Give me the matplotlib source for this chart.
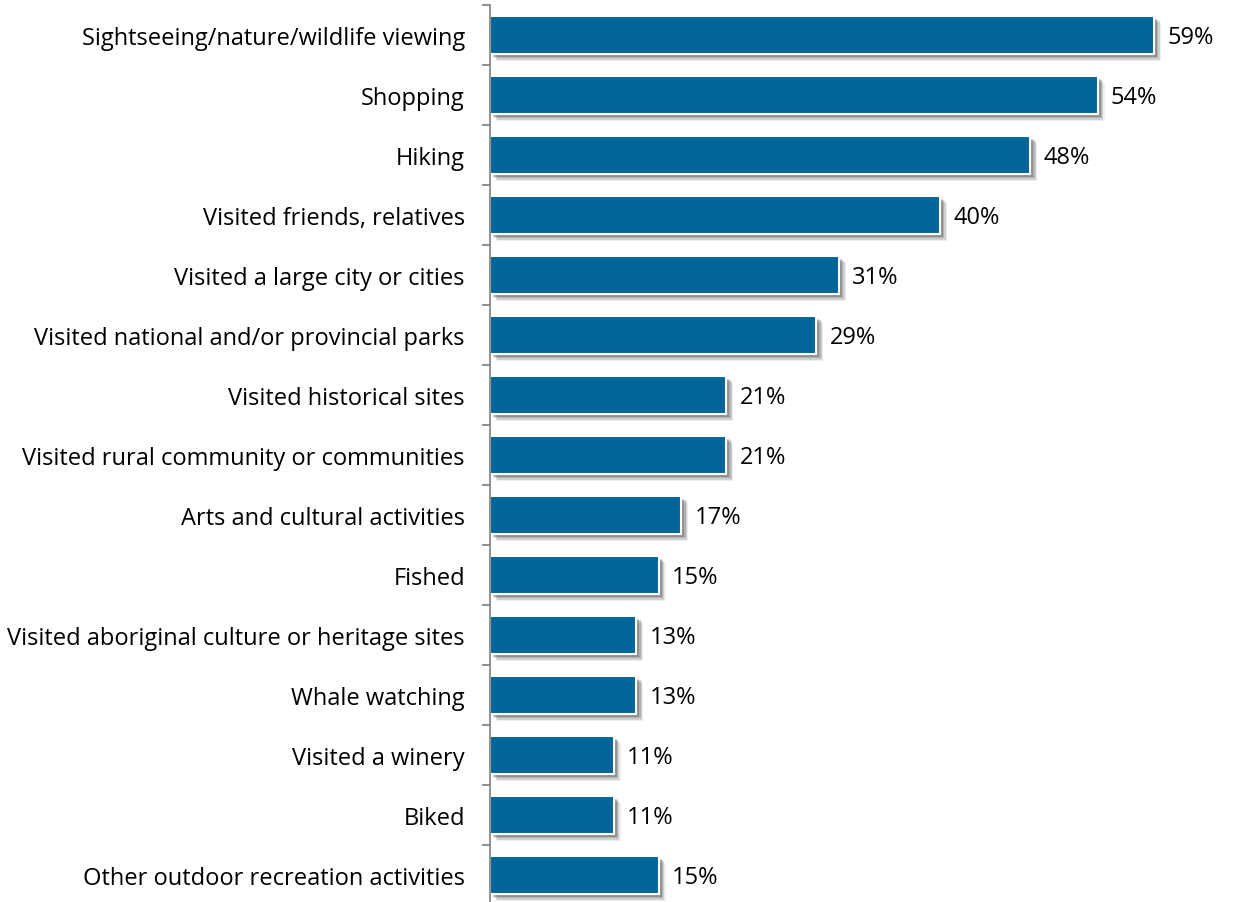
import matplotlib.pyplot as plt
import matplotlib.patheffects as pe

# Activities and share of respondents (%)
activities = [
    "Sightseeing/nature/wildlife viewing",
    "Shopping",
    "Hiking",
    "Visited friends, relatives",
    "Visited a large city or cities",
    "Visited national and/or provincial parks",
    "Visited historical sites",
    "Visited rural community or communities",
    "Arts and cultural activities",
    "Fished",
    "Visited aboriginal culture or heritage sites",
    "Whale watching",
    "Visited a winery",
    "Biked",
    "Other outdoor recreation activities",
]
shares = [59, 54, 48, 40, 31, 29, 21, 21, 17, 15, 13, 13, 11, 11, 15]

plt.rcParams['font.family'] = ['Open Sans', 'DejaVu Sans']

fig = plt.figure(figsize=(12.33, 9.03), dpi=100)
ax = fig.add_axes([490 / 1233, -3 / 903, 1 - 490 / 1233, 900 / 903])

pos = list(range(len(activities)))

# soft drop shadow built from a few stacked offsets
shadow = [
    pe.SimplePatchShadow(offset=(5, -5), shadow_rgbFace='#000000', alpha=0.07),
    pe.SimplePatchShadow(offset=(4, -4), shadow_rgbFace='#000000', alpha=0.12),
    pe.SimplePatchShadow(offset=(3, -3), shadow_rgbFace='#000000', alpha=0.15),
    pe.SimplePatchShadow(offset=(2, -2), shadow_rgbFace='#000000', alpha=0.18),
    pe.Normal(),
]

bars = ax.barh(pos, shares, height=0.64, color='#006699',
               edgecolor='white', linewidth=1.5)
for b in bars:
    b.set_path_effects(shadow)

for y, v in zip(pos, shares):
    ax.annotate(f"{v}%", (v, y), xytext=(13, -2), textcoords='offset pixels',
                va='center', ha='left', fontsize=17, color='black')

ax.set_ylim(len(activities) - 0.5, -0.5)
ax.set_xlim(0, 66)

ax.set_yticks(pos)
ax.set_yticklabels(activities, fontsize=17)
ax.tick_params(axis='y', length=0, pad=18)
ax.set_yticks([p - 0.5 for p in pos] + [len(pos) - 0.5], minor=True)
ax.tick_params(axis='y', which='minor', length=6, color='#7f7f7f', width=1.2)
ax.set_xticks([])

for s in ['top', 'right', 'bottom']:
    ax.spines[s].set_visible(False)
ax.spines['left'].set_color('#7f7f7f')
ax.spines['left'].set_linewidth(1.2)

fig.savefig('out.png', dpi=100)
